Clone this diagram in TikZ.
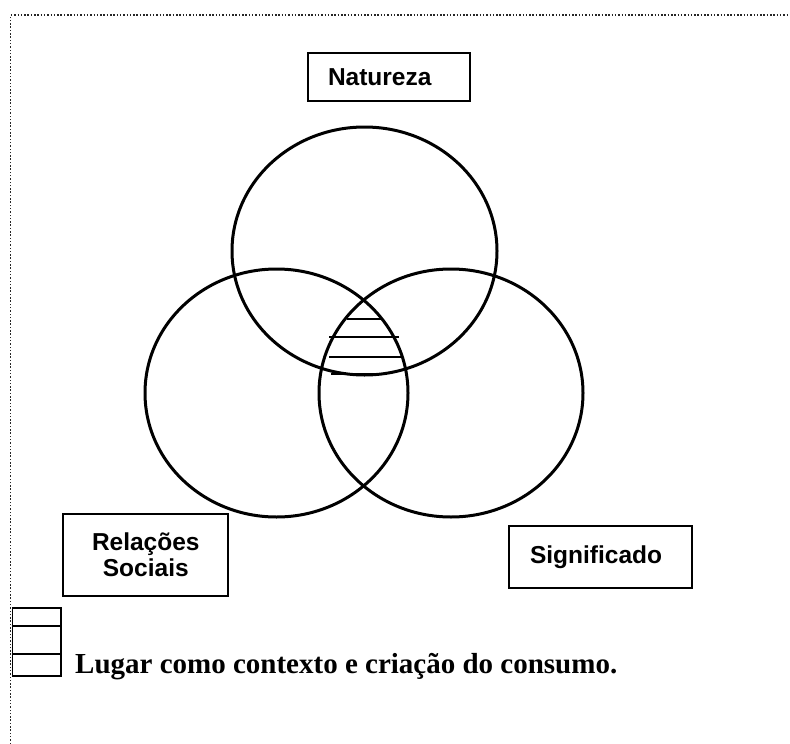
\documentclass[tikz,border=0pt]{standalone}
\usepackage{fontspec}
\setmainfont{Liberation Serif}
\newfontfamily\arialfont{Liberation Sans}
\begin{document}
\begin{tikzpicture}[x=1pt,y=-1pt,
  ring/.style={line width=3pt},
  labelbox/.style={draw, line width=1.9pt, font=\arialfont\bfseries\fontsize{24.5}{26}\selectfont, inner ysep=0pt},
  hatch/.style={line width=2pt},
  border/.style={line width=1.5pt, dash pattern=on 1.5pt off 1.8pt, black!85}
]
\useasboundingbox (0,0) rectangle (790,744);
% dotted frame
\coordinate (fbl) at (10.7,744);
\coordinate (ftl) at (10.7,15);
\coordinate (ftr) at (790,15);
\draw[border] (fbl) -- (ftl) -- (ftr);

% circles
\draw[ring] (364.5,251) ellipse [x radius=132.5pt, y radius=124pt];
\draw[ring] (276.5,393) ellipse [x radius=131.5pt, y radius=124pt];
\draw[ring] (451,393) ellipse [x radius=132pt, y radius=124pt];

% hatching of the common region
\coordinate (h1a) at (347,319); \coordinate (h1b) at (382,319);
\coordinate (h2a) at (329,337); \coordinate (h2b) at (399,337);
\coordinate (h3a) at (329,357); \coordinate (h3b) at (402,357);
\coordinate (h4a) at (331,374); \coordinate (h4b) at (383,374);
\draw[hatch] (h1a) -- (h1b);
\draw[hatch] (h2a) -- (h2b);
\draw[hatch] (h3a) -- (h3b);
\draw[hatch] (h4a) -- (h4b);

% label boxes
\node[labelbox, text width=122pt, inner xsep=20pt, align=left, minimum height=48pt] (nat) at (389,77) {Natureza};
\node[labelbox, minimum width=165pt, minimum height=81.7pt, align=center, inner xsep=0pt] (rel) at (145.8,554.9) {Relações\\Sociais};
\node[labelbox, text width=141pt, inner xsep=21pt, align=left, minimum height=62.3pt] (sig) at (600.5,556.9) {Significado};

% legend
\node[draw, line width=1.9pt, minimum width=48.5pt, minimum height=68.3pt, inner sep=0pt, anchor=north west] (leg) at (11.5,606.7) {};
\draw[line width=1.6pt] ([yshift=-19.3pt]leg.north west) -- ([yshift=-19.3pt]leg.north east);
\draw[line width=1.9pt] ([yshift=-47.6pt]leg.north west) -- ([yshift=-47.6pt]leg.north east);
\node[anchor=base west, inner sep=0pt, font=\bfseries\fontsize{29}{31}\selectfont] (legtxt) at (75,673) {Lugar como contexto e criação do consumo.};
\end{tikzpicture}
\end{document}
